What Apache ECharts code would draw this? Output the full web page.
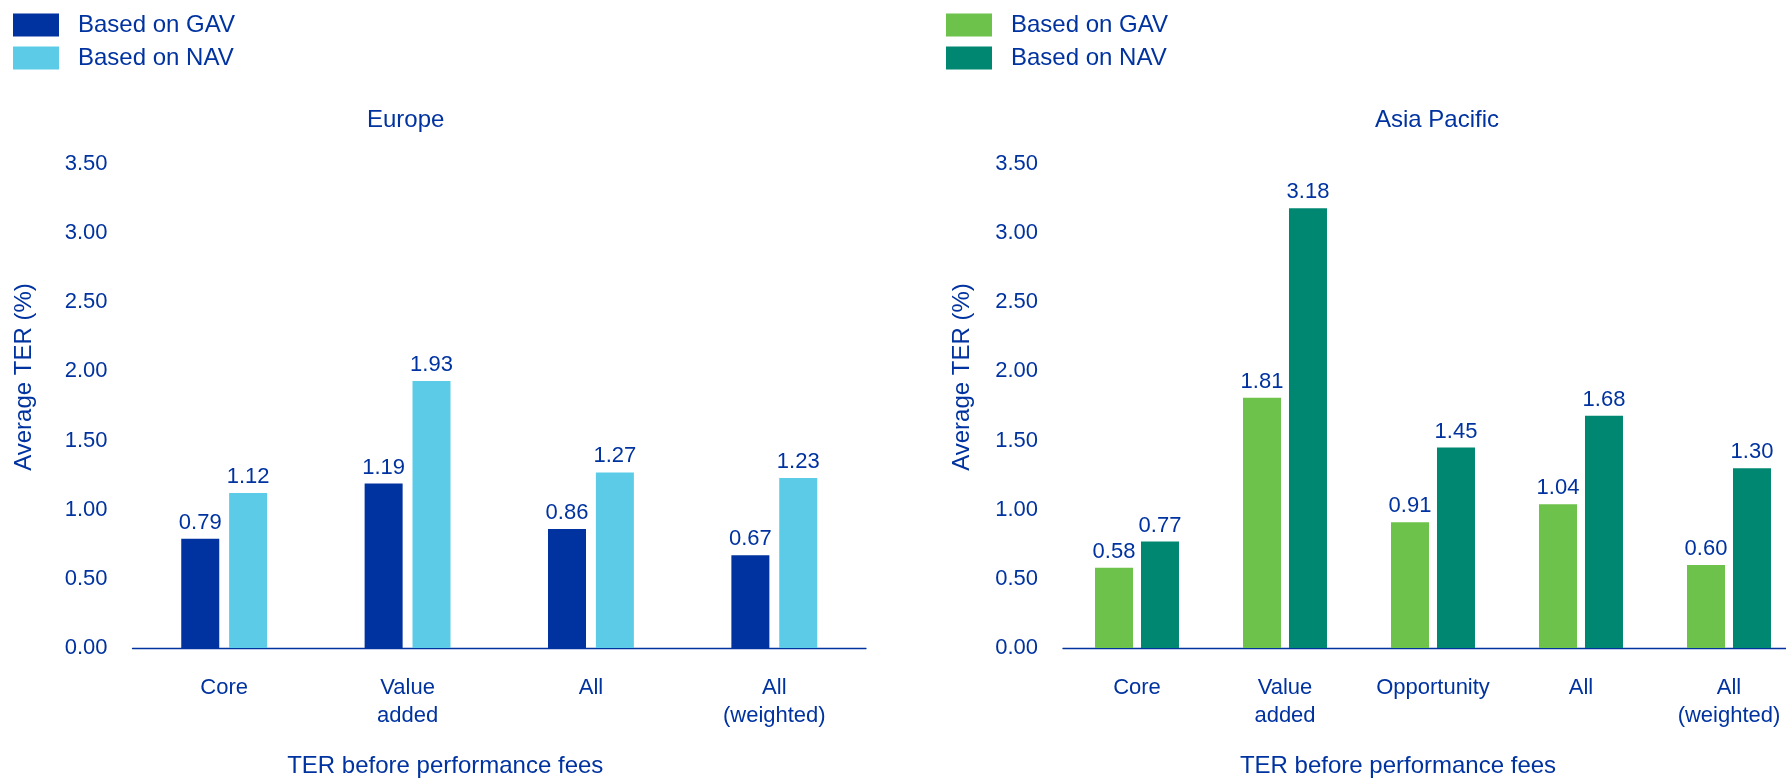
<!DOCTYPE html>
<html>
<head>
<meta charset="utf-8">
<script src="https://cdn.jsdelivr.net/npm/echarts@6/dist/echarts.min.js"></script>
<style>
  html, body { margin: 0; padding: 0; background: #ffffff; }
  #chart { width: 1786px; height: 779px; }
</style>
</head>
<body>
<div id="chart"></div>
<script>
// Average TER (%) before performance fees, by fund style
const europeCategories = ['Core', 'Value\nadded', 'All', 'All\n(weighted)'];
const europeGAV = [0.79, 1.19, 0.86, 0.67];
const europeNAV = [1.12, 1.93, 1.27, 1.23];

const asiaCategories = ['Core', 'Value\nadded', 'Opportunity', 'All', 'All\n(weighted)'];
const asiaGAV = [0.58, 1.81, 0.91, 1.04, 0.60];
const asiaNAV = [0.77, 3.18, 1.45, 1.68, 1.30];

const seriesNames = ['Based on GAV', 'Based on NAV'];
const panelTitles = ['Europe', 'Asia Pacific'];
const yAxisTitle = 'Average TER (%)';
const xAxisTitle = 'TER before performance fees';
const yMin = 0, yMax = 3.5, yStep = 0.5;

const TEXT = '#0033A0';
const FONT = "'Liberation Sans', Arial, sans-serif";
const COLORS = {
  europe: ['#0033A0', '#5BCBE8'],
  asia: ['#6CC24A', '#008772']
};

function yAxis(gridIndex, nameGap) {
  return {
    type: 'value', gridIndex: gridIndex,
    min: yMin, max: yMax, interval: yStep,
    name: yAxisTitle, nameLocation: 'middle', nameGap: nameGap,
    nameTextStyle: { color: TEXT, fontSize: 24, fontFamily: FONT, padding: [0, 0, 0, 58] },
    axisLine: { show: false }, axisTick: { show: false }, splitLine: { show: false },
    axisLabel: { color: TEXT, fontSize: 22, fontFamily: FONT, margin: 25,
      formatter: v => v.toFixed(2) }
  };
}

function xAxis(gridIndex, cats, shift) {
  return {
    type: 'category', gridIndex: gridIndex, data: cats,
    name: xAxisTitle, nameLocation: 'middle', nameGap: 106,
    nameTextStyle: { color: TEXT, fontSize: 24, fontFamily: FONT, padding: [0, shift, 0, 0] },
    axisLine: { show: true, lineStyle: { color: TEXT, width: 1.3 } },
    axisTick: { show: false },
    axisLabel: { color: TEXT, fontSize: 22, fontFamily: FONT, margin: 26, lineHeight: 28, interval: 0 }
  };
}

function bars(name, data, color, axisIndex, gap) {
  return {
    type: 'bar', name: name, data: data,
    xAxisIndex: axisIndex, yAxisIndex: axisIndex,
    barWidth: 38, barGap: gap,
    itemStyle: { color: color },
    label: { show: true, position: 'top', distance: 5, color: TEXT, fontSize: 22, fontFamily: FONT,
      formatter: p => p.value.toFixed(2) },
    emphasis: { disabled: true }
  };
}

function legend(left, colors) {
  return {
    orient: 'vertical', left: left, top: 13, itemGap: 9, padding: 0,
    itemWidth: 46, itemHeight: 23, icon: 'rect',
    textStyle: { color: TEXT, fontSize: 24, fontFamily: FONT, lineHeight: 23, padding: [0, 0, 0, 14] },
    data: seriesNames.map((n, i) => ({ name: n, itemStyle: { color: colors[i] } }))
  };
}

const chart = echarts.init(document.getElementById('chart'), null, { renderer: 'canvas' });
chart.setOption({
  backgroundColor: '#ffffff',
  animation: false,
  title: [
    { text: panelTitles[0], left: 367, top: 108, padding: 0,
      textStyle: { color: TEXT, fontSize: 24, fontWeight: 'normal', fontFamily: FONT } },
    { text: panelTitles[1], left: 1375, top: 108, padding: 0,
      textStyle: { color: TEXT, fontSize: 24, fontWeight: 'normal', fontFamily: FONT } }
  ],
  legend: [legend(13, COLORS.europe), legend(946, COLORS.asia)],
  grid: [
    { left: 132.5, top: 164, width: 733.5, height: 484, outerBoundsMode: 'none', containLabel: false },
    { left: 1063, top: 164, width: 740, height: 484, outerBoundsMode: 'none', containLabel: false }
  ],
  xAxis: [xAxis(0, europeCategories, 108), xAxis(1, asiaCategories, 70)],
  yAxis: [yAxis(0, 96), yAxis(1, 89)],
  series: [
    bars(seriesNames[0], europeGAV, COLORS.europe[0], 0, '26%'),
    bars(seriesNames[1], europeNAV, COLORS.europe[1], 0, '26%'),
    bars(seriesNames[0], asiaGAV, COLORS.asia[0], 1, '21%'),
    bars(seriesNames[1], asiaNAV, COLORS.asia[1], 1, '21%')
  ]
});
</script>
</body>
</html>
